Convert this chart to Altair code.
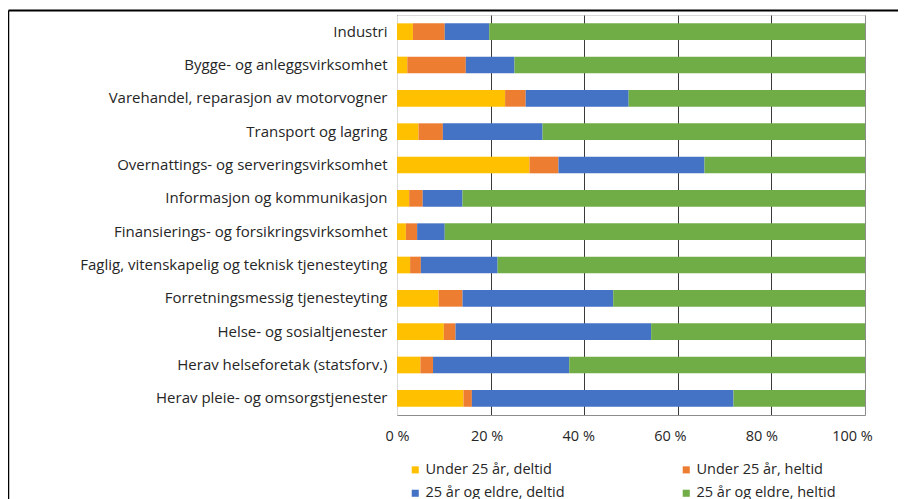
import altair as alt
import pandas as pd

categories = [
    "Industri",
    "Bygge- og anleggsvirksomhet",
    "Varehandel, reparasjon av motorvogner",
    "Transport og lagring",
    "Overnattings- og serveringsvirksomhet",
    "Informasjon og kommunikasjon",
    "Finansierings- og forsikringsvirksomhet",
    "Faglig, vitenskapelig og teknisk tjenesteyting",
    "Forretningsmessig tjenesteyting",
    "Helse- og sosialtjenester",
    "Herav helseforetak (statsforv.)",
    "Herav pleie- og omsorgstjenester",
]
under25_deltid = [3.4, 2.2, 23.1, 4.6, 28.3, 2.6, 1.9, 2.8, 8.9, 10.0, 5.0, 14.2]
under25_heltid = [6.8, 12.5, 4.4, 5.2, 6.2, 2.9, 2.4, 2.3, 5.1, 2.5, 2.7, 1.8]
over25_deltid = [9.5, 10.4, 22.0, 21.3, 31.2, 8.5, 5.9, 16.4, 32.2, 41.8, 29.1, 55.9]
over25_heltid = [80.3, 74.9, 50.5, 68.9, 34.3, 86.0, 89.8, 78.5, 53.8, 45.7, 63.2, 28.1]

series_names = [
    "Under 25 år, deltid",
    "Under 25 år, heltid",
    "25 år og eldre, deltid",
    "25 år og eldre, heltid",
]
series_colors = ["#FFC000", "#ED7D31", "#4472C4", "#70AD47"]
x_ticks = [0, 20, 40, 60, 80, 100]

rows = []
for i, serie in enumerate([under25_deltid, under25_heltid, over25_deltid, over25_heltid]):
    for cat, v in zip(categories, serie):
        rows.append({"bransje": cat, "serie": series_names[i], "verdi": v, "rekkefolge": i})
df = pd.DataFrame(rows)

FS = 14.5

label_shift = {
    "condition": [
        {"test": "datum.value === 20", "value": -4},
        {"test": "datum.value === 40", "value": -6},
        {"test": "datum.value === 60", "value": -8},
        {"test": "datum.value === 80", "value": -10},
        {"test": "datum.value === 100", "value": -13},
    ],
    "value": 0,
}

bars = alt.Chart(df).mark_bar().encode(
    x=alt.X(
        "verdi:Q",
        stack="zero",
        scale=alt.Scale(domain=[0, 100], nice=False),
        axis=alt.Axis(
            values=x_ticks,
            labelExpr="datum.value + ' %'",
            title=None,
            grid=True,
            gridColor={"condition": {"test": "datum.value === 100", "value": "#8c8c8c"}, "value": "#3a3a3a"},
            gridWidth=1,
            ticks=False,
            tickSize=0,
            labelPadding=14,
            labelFlush=False,
            labelOffset=label_shift,
            labelFontSize=FS,
            domainColor="#8c8c8c",
        ),
    ),
    y=alt.Y(
        "bransje:N",
        sort=categories,
        scale=alt.Scale(paddingInner=0.5, paddingOuter=0.25),
        axis=alt.Axis(title=None, ticks=False, tickSize=0, labelPadding=10, domainColor="#d9d9d9",
                      labelLimit=400, labelFontSize=15),
    ),
    color=alt.Color(
        "serie:N",
        scale=alt.Scale(domain=series_names, range=series_colors),
        legend=alt.Legend(
            title=None,
            orient="none",
            legendX=11,
            legendY=447.5,
            direction="horizontal",
            columns=2,
            columnPadding=114,
            rowPadding=8.5,
            symbolType="square",
            symbolSize=50,
            symbolStrokeWidth=0,
            labelOffset=3,
            labelFontSize=FS,
            labelLimit=300,
            padding=0,
        ),
    ),
    order=alt.Order("rekkefolge:Q"),
)

frame_top = alt.Chart(alt.Data(values=[{}])).mark_rule(color="black", strokeWidth=2).encode(
    x=alt.value(-388.5), x2=alt.value(501), y=alt.value(-4.5)
)
frame_left = alt.Chart(alt.Data(values=[{}])).mark_rule(color="black", strokeWidth=1.5).encode(
    x=alt.value(-388.5), y=alt.value(-4.5), y2=alt.value(484)
)

chart = alt.layer(bars, frame_top, frame_left).properties(
    width=468,
    height=400,
    autosize=alt.AutoSizeParams(type="none"),
    padding={"left": 389, "top": 7, "right": 33, "bottom": 84},
).configure(
    font="Open Sans",
).configure_axis(
    labelFont="Open Sans",
    labelColor="#262626",
).configure_legend(
    labelFont="Open Sans",
    labelColor="#262626",
).configure_view(
    stroke="#d9d9d9",
)

chart.save("out.html", embed_options={"renderer": "svg", "actions": False})
